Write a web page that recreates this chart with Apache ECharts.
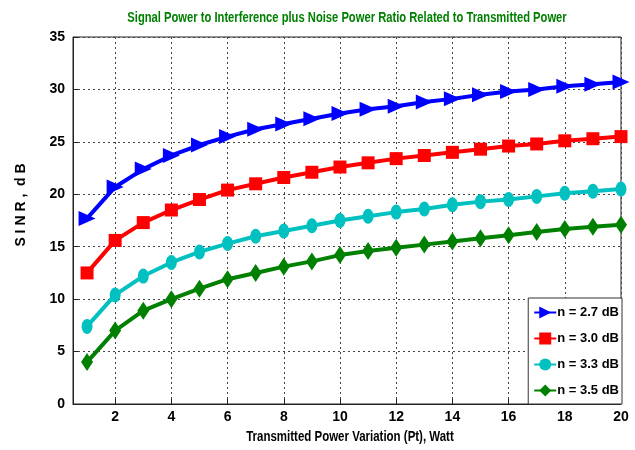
<!DOCTYPE html>
<html>
<head>
    <meta charset="UTF-8">
    <title>SINR vs Transmitted Power</title>
    <script src="https://cdn.jsdelivr.net/npm/echarts/dist/echarts.min.js"></script>
    <style>
        html, body { margin: 0; padding: 0; background: #fff; }
        #main { width: 635px; height: 450px; }
    </style>
</head>
<body>
    <div id="main"></div>
    <script type="text/javascript">
        // transmitted power (W)
        const power = [1, 2, 3, 4, 5, 6, 7, 8, 9, 10, 11, 12, 13, 14, 15, 16, 17, 18, 19, 20];
        const xTicks = [2, 4, 6, 8, 10, 12, 14, 16, 18, 20];

        // SINR (dB) per path-loss exponent
        const sinr27 = [17.7, 20.7, 22.4, 23.7, 24.7, 25.5, 26.2, 26.7, 27.2, 27.7, 28.1, 28.4, 28.8, 29.1, 29.5, 29.8, 30.0, 30.3, 30.5, 30.7];
        const sinr30 = [12.5, 15.6, 17.3, 18.5, 19.5, 20.4, 21.0, 21.6, 22.1, 22.6, 23.0, 23.4, 23.7, 24.0, 24.3, 24.6, 24.8, 25.1, 25.3, 25.5];
        const sinr33 = [7.4, 10.4, 12.2, 13.5, 14.5, 15.3, 16.0, 16.5, 17.0, 17.5, 17.9, 18.3, 18.6, 19.0, 19.3, 19.5, 19.8, 20.1, 20.3, 20.5];
        const sinr35 = [4.0, 7.0, 8.9, 10.0, 11.0, 11.9, 12.5, 13.1, 13.6, 14.2, 14.6, 14.9, 15.2, 15.5, 15.8, 16.1, 16.4, 16.7, 16.9, 17.1];

        const seriesNames = ['n = 2.7 dB', 'n = 3.0 dB', 'n = 3.3 dB', 'n = 3.5 dB'];

        const font = 'Liberation Sans, Arial, sans-serif';

        var myChart = echarts.init(document.getElementById('main'));

        function mkSeries(name, vals, color, symbol, size, rotate) {
            return {
                name: name,
                type: 'line',
                data: power.map((p, i) => [p, vals[i]]),
                symbol: symbol,
                symbolSize: size,
                symbolRotate: rotate || 0,
                showAllSymbol: true,
                lineStyle: { color: color, width: 4 },
                itemStyle: { color: color }
            };
        }

        // narrow-looking text (the original uses a condensed bold face)
        function narrowText(txt, x, y, color, size, sx, rot) {
            return {
                type: 'text',
                x: x, y: y,
                scaleX: sx,
                rotation: rot || 0,
                style: {
                    text: txt,
                    fill: color,
                    font: 'bold ' + size + 'px ' + font,
                    align: 'center',
                    verticalAlign: 'middle'
                }
            };
        }

        var option = {
            animation: false,
            graphic: [
                narrowText('Signal Power to Interference plus Noise Power Ratio Related to Transmitted Power', 347, 18, '#008000', 14, 0.8),
                narrowText('Transmitted Power Variation (Pt), Watt', 350, 437, '#000', 14, 0.82),
                {
                    type: 'text',
                    x: 21, y: 205,
                    rotation: Math.PI / 2,
                    style: {
                        text: 'S I N R ,  d B',
                        fill: '#000',
                        font: 'bold 14px ' + font,
                        align: 'center',
                        verticalAlign: 'middle'
                    }
                }
            ],
            grid: {
                left: 73, right: 14, top: 37, bottom: 46,
                show: true,
                borderColor: '#222',
                borderWidth: 1,
                backgroundColor: '#fff'
            },
            legend: {
                orient: 'vertical',
                right: 13,
                bottom: 46,
                backgroundColor: '#fff',
                borderColor: '#333',
                borderWidth: 1,
                padding: [8, 3, 7, 5],
                itemGap: 13,
                itemWidth: 22,
                itemHeight: 15,
                textStyle: { fontSize: 13, fontWeight: 'bold', fontFamily: font, color: '#000', padding: [0, 0, 0, -4] },
                data: seriesNames
            },
            xAxis: {
                type: 'value',
                min: 0.5,
                max: 20,
                axisLine: { onZero: false, lineStyle: { color: '#222' } },
                axisTick: { inside: true, length: 5, customValues: xTicks, lineStyle: { color: '#222' } },
                axisLabel: { customValues: xTicks, fontSize: 14, fontWeight: 'bold', fontFamily: font, color: '#000', margin: 6 },
                splitLine: { show: true, lineStyle: { color: '#444', type: [2, 3], width: 1 } }
            },
            yAxis: {
                type: 'value',
                min: 0,
                max: 35,
                interval: 5,
                axisLine: { show: true, lineStyle: { color: '#222' } },
                axisTick: { show: true, inside: true, length: 5, lineStyle: { color: '#222' } },
                axisLabel: { fontSize: 14, fontWeight: 'bold', fontFamily: font, color: '#000', margin: 8 },
                splitLine: { show: true, lineStyle: { color: '#444', type: [2, 3], width: 1 } }
            },
            series: [
                mkSeries(seriesNames[0], sinr27, '#0000ff', 'triangle', [15, 17], -90),
                mkSeries(seriesNames[1], sinr30, '#ff0000', 'rect', 13),
                mkSeries(seriesNames[2], sinr33, '#00c0c0', 'circle', [11, 15]),
                mkSeries(seriesNames[3], sinr35, '#008000', 'diamond', [12, 18])
            ]
        };

        myChart.setOption(option);
    </script>
</body>
</html>
